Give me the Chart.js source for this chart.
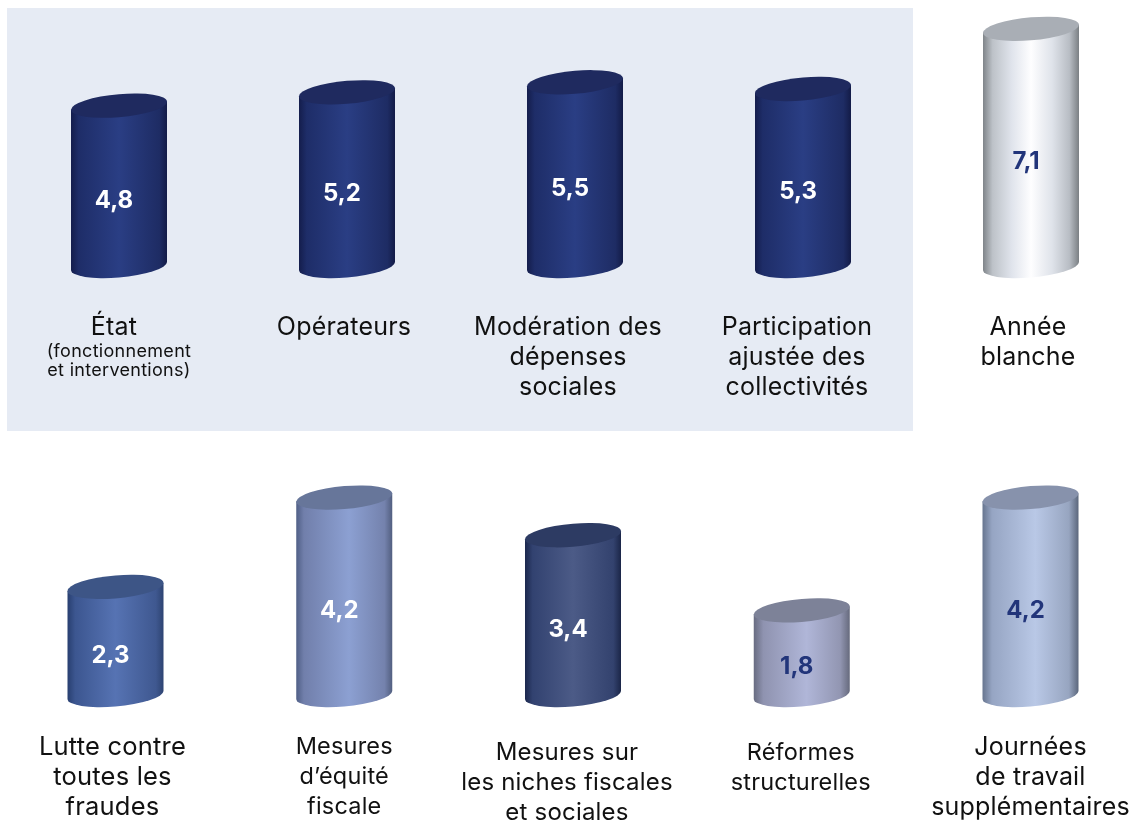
<!DOCTYPE html>
<html lang="fr">
<head>
<meta charset="utf-8">
<title>Cylindres</title>
<script src="https://cdn.jsdelivr.net/npm/chart.js@4"></script>
<style>
    html, body { margin: 0; padding: 0; background: #fff; overflow: hidden; }
    #page  { position: relative; width: 1140px; height: 821px; }
    #panel { position: absolute; left: 7px; top: 8px; width: 906px; height: 423px; background: #E6EBF4; }
    canvas { position: absolute; left: 0; }
    #topChart { top: 0; }
    #bottomChart { top: 440px; }
</style>
</head>
<body>
<div id="page">
    <div id="panel"></div>
    <canvas id="topChart" width="1140" height="440"></canvas>
    <canvas id="bottomChart" width="1140" height="381"></canvas>
</div>
<script>
// Top row data
const topCategories = [
    ["État"],
    ["Opérateurs"],
    ["Modération des", "dépenses", "sociales"],
    ["Participation", "ajustée des", "collectivités"],
    ["Année", "blanche"],
];
const topNotes = [["(fonctionnement", "et interventions)"], [], [], [], []];
const topValues = [4.8, 5.2, 5.5, 5.3, 7.1];

// Bottom row data
const bottomCategories = [
    ["Lutte contre", "toutes les", "fraudes"],
    ["Mesures", "d’équité", "fiscale"],
    ["Mesures sur", "les niches fiscales", "et sociales"],
    ["Réformes", "structurelles"],
    ["Journées", "de travail", "supplémentaires"],
];
const bottomNotes = [[], [], [], [], []];
const bottomValues = [2.3, 4.2, 3.4, 1.8, 4.2];

// Cylinder colours: shading across the body, lid, value text
const NAVY  = { stops: [[0, "#141D4C"], [0.08, "#1E2D68"], [0.5, "#2A3E84"], [0.92, "#1E2C64"], [1, "#131B47"]], lid: "#1F2A5F", text: "#FFFFFF" };
const WHITE = { stops: [[0, "#7F8489"], [0.1, "#BDC2C8"], [0.3, "#E0E4EC"], [0.5, "#FEFEFF"], [0.72, "#DFE3EA"], [0.9, "#B8BDC4"], [1, "#7B8084"]], lid: "#A9AEB5", text: "#22357A" };
const BLUE  = { stops: [[0, "#283F70"], [0.08, "#3C5690"], [0.5, "#5673B3"], [0.92, "#3F5890"], [1, "#2E4472"]], lid: "#3D5586", text: "#FFFFFF" };
const STEEL = { stops: [[0, "#505F86"], [0.08, "#717FAB"], [0.55, "#8CA0D2"], [0.92, "#7482AD"], [1, "#525F80"]], lid: "#67769A", text: "#FFFFFF" };
const SLATE = { stops: [[0, "#1B274D"], [0.08, "#324270"], [0.5, "#4C5B87"], [0.92, "#33426E"], [1, "#1B2648"]], lid: "#2D3B63", text: "#FFFFFF" };
const MAUVE = { stops: [[0, "#686C81"], [0.1, "#8F93B0"], [0.55, "#B0B6D8"], [0.9, "#9296B2"], [1, "#666A7D"]], lid: "#7D8298", text: "#22357A" };
const PALE  = { stops: [[0, "#67758F"], [0.1, "#96A5C3"], [0.55, "#B9C8E6"], [0.9, "#97A5C0"], [1, "#5B677C"]], lid: "#8792AC", text: "#22357A" };

const FONT = "Inter, sans-serif";
const INK  = "#111111";

// Draws one tilted cylinder from the bar element geometry
function drawCylinder(ctx, bar, look) {
    const rx = bar.width / 2;
    const ry = 11.5;
    const gradient = ctx.createLinearGradient(-rx, 0, rx, 0);
    look.stops.forEach(([at, color]) => gradient.addColorStop(at, color));

    ctx.save();
    // y shear gives the tilted ellipses while keeping the sides vertical
    ctx.transform(1, -4 / 48, 0, 1, bar.x, 0);
    ctx.beginPath();
    ctx.moveTo(-rx, bar.y);
    ctx.lineTo(-rx, bar.base);
    ctx.ellipse(0, bar.base, rx, ry, 0, Math.PI, 0, true);
    ctx.lineTo(rx, bar.y);
    ctx.closePath();
    ctx.fillStyle = gradient;
    ctx.fill();

    ctx.beginPath();
    ctx.ellipse(0, bar.y, rx, ry, 0, 0, Math.PI * 2);
    ctx.fillStyle = look.lid;
    ctx.fill();
    ctx.restore();
}

const cylinderPlugin = {
    id: "cylinders",
    afterDatasetsDraw(chart, args, opts) {
        const { ctx } = chart;
        const dataset = chart.data.datasets[0];
        const meta = chart.getDatasetMeta(0);

        meta.data.forEach((bar, i) => {
            drawCylinder(ctx, bar, opts.looks[i]);

            // Value inside the cylinder
            ctx.save();
            ctx.font = "700 24px " + FONT;
            ctx.textAlign = "center";
            ctx.textBaseline = "middle";
            ctx.fillStyle = opts.looks[i].text;
            ctx.fillText(String(dataset.data[i]).replace(".", ","), bar.x - 5, (bar.y + bar.base) / 2 + 14.5);

            // Category label under the cylinder
            ctx.fillStyle = INK;
            let y = opts.labelTop[i];
            ctx.font = "400 " + opts.labelSize[i] + "px " + FONT;
            ctx.letterSpacing = "0.2px";
            chart.data.labels[i].forEach(line => {
                ctx.fillText(line, bar.x + opts.labelShift[i], y);
                y += 30;
            });
            // Small note sits on the cylinder axis, not on the shifted label
            ctx.font = "400 18px " + FONT;
            ctx.letterSpacing = "0.3px";
            y -= 5;
            opts.notes[i].forEach(line => {
                ctx.fillText(line, bar.x, y);
                y += 19;
            });
            ctx.restore();
        });
    },
};

function makeRow(canvasId, categories, values, notes, looks, axisMax, padding, labelTop, labelShift, labelSize) {
    return new Chart(document.getElementById(canvasId), {
        type: "bar",
        data: {
            labels: categories,
            datasets: [{ data: values, backgroundColor: "transparent", barThickness: 96 }],
        },
        plugins: [cylinderPlugin],
        options: {
            responsive: false,
            animation: false,
            layout: { padding },
            scales: {
                x: { display: false, offset: false, grid: { display: false } },
                y: { display: false, min: 0, max: axisMax, grid: { display: false } },
            },
            plugins: {
                legend: { display: false },
                tooltip: { enabled: false },
                cylinders: { looks, notes, labelTop, labelShift, labelSize },
            },
        },
    });
}

makeRow("topChart", topCategories, topValues, topNotes,
    [NAVY, NAVY, NAVY, NAVY, WHITE], 7.5,
    { left: 119, right: 109, top: 15.5, bottom: 174 },
    [327, 327, 327, 327, 327], [-5, -3, -7, -6, -3], [25, 25, 25, 25, 25]);

makeRow("bottomChart", bottomCategories, bottomValues, bottomNotes,
    [BLUE, STEEL, SLATE, MAUVE, PALE], 5,
    { left: 115.5, right: 109.5, top: 20, bottom: 126 },
    [307, 307, 313, 313, 307], [-3, 0, -6, -1, 0], [25.5, 23.5, 24, 23.5, 25]);
</script>
</body>
</html>
